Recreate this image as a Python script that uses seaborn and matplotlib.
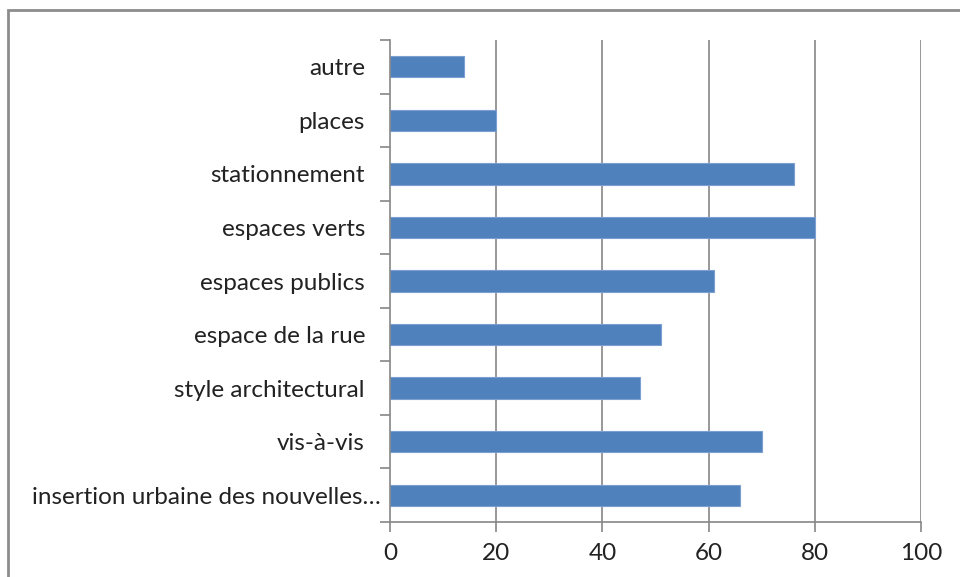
import matplotlib
matplotlib.use("Agg")
import matplotlib.pyplot as plt
import matplotlib.transforms as mtransforms
import seaborn as sns
import pandas as pd
from matplotlib.patches import Rectangle
from matplotlib.ticker import FixedLocator

categories = ["autre", "places", "stationnement", "espaces verts", "espaces publics",
              "espace de la rue", "style architectural", "vis-à-vis",
              "insertion urbaine des nouvelles…"]
values = [14, 20, 76, 80, 61, 51, 47, 70, 66]
xticks = [0, 20, 40, 60, 80, 100]

sns.set_theme(style="white")
plt.rcParams['font.family'] = ['Lato', 'DejaVu Sans']

df = pd.DataFrame({"cat": categories, "val": values})

fig = plt.figure(figsize=(9.6, 5.77), dpi=100)
ax = fig.add_axes([390/960, 1-522/577, (921-390)/960, (522-40)/577])

grid_c = "#868686"
for x in xticks[1:]:
    ax.axvline(x, color=grid_c, lw=1.2, zorder=0)

sns.barplot(data=df, x="val", y="cat", orient="h", color="#4F81BD",
            width=0.4, edgecolor="#7A9FD0", linewidth=0.8, saturation=1,
            ax=ax, zorder=2)

fs = 17.5
ax.set_xlim(0, 100)
ax.set_ylim(len(categories) - 0.5, -0.5)
ax.set_xticks(xticks)
ax.set_xticklabels([str(t) for t in xticks], fontsize=fs, color="#222222")
ax.set_xlabel("")
ax.set_ylabel("")

ax.set_yticks(range(len(categories)))
ax.set_yticklabels(categories, fontsize=fs, color="#222222")
ax.yaxis.set_minor_locator(FixedLocator([i - 0.5 for i in range(len(categories) + 1)]))
ax.tick_params(axis="y", which="major", length=0, pad=18)
ax.tick_params(axis="y", which="minor", length=7, width=1.2, color=grid_c, left=True)
ax.tick_params(axis="x", which="major", length=7, width=1.2, color=grid_c, bottom=True, pad=8)

# the truncated label sits closer to the axis (no trailing space)
last = ax.get_yticklabels()[-1]
last.set_transform(last.get_transform() +
                   mtransforms.ScaledTranslation(16/100, 0, fig.dpi_scale_trans))

for side in ["top", "right"]:
    ax.spines[side].set_visible(False)
for side in ["left", "bottom"]:
    ax.spines[side].set_color(grid_c)
    ax.spines[side].set_linewidth(1.2)

fig.patches.append(Rectangle((8/960, -0.1), 2.0, 1 - 10/577 + 0.1,
                             transform=fig.transFigure, fill=False,
                             edgecolor="#8C8C8C", linewidth=2, zorder=0))

fig.savefig("out.png", dpi=100)
